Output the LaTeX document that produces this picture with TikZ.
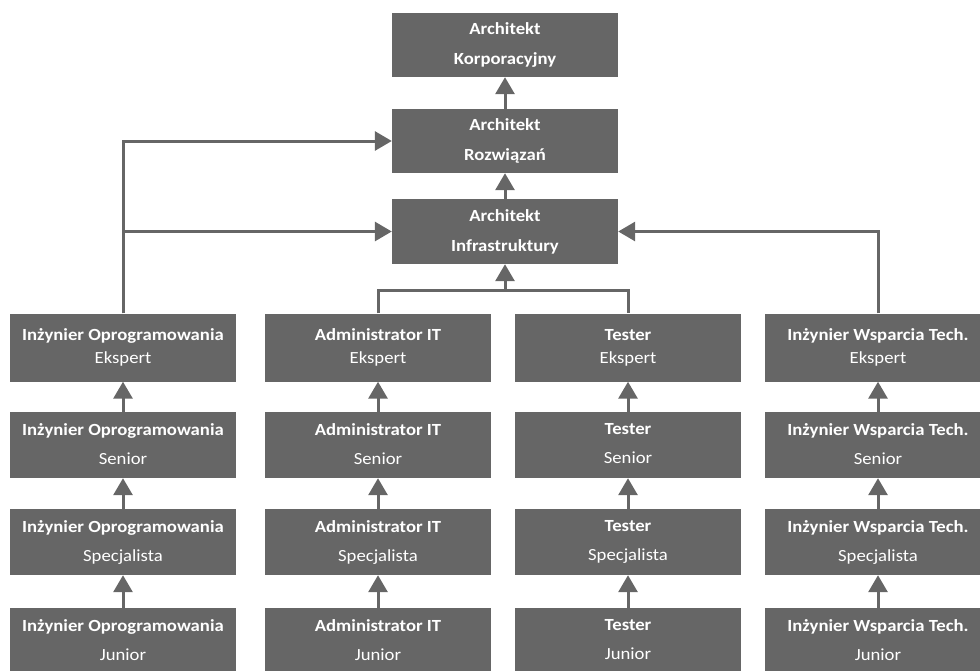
\documentclass[tikz,border=0pt]{standalone}
\usepackage{fontspec}
\setmainfont{Carlito}[FakeStretch=1.1]
\usetikzlibrary{arrows.meta}
\definecolor{boxgray}{HTML}{666666}
\begin{document}
\begin{tikzpicture}[x=1pt,y=-1pt,
  box/.style={draw=none,fill=boxgray,text=white,minimum width=226pt,inner sep=0pt,align=center,font=\fontsize{17}{23}\selectfont},
  conn/.style={draw=boxgray,line width=3pt},
  arr/.style={conn,-{Triangle[width=19pt,length=17pt]}}]
\useasboundingbox (0,0) rectangle (980,670);
% top
\node[box,minimum height=64pt] (korp) at (505,45) {\textbf{Architekt}\\[7pt]\textbf{Korporacyjny}};
\node[box,minimum height=64pt] (rozw) at (505,141) {\textbf{Architekt}\\[7pt]\textbf{Rozwiązań}};
\node[box,minimum height=65pt] (infra) at (505,231.5) {\textbf{Architekt}\\[7pt]\textbf{Infrastruktury\vphantom{y}}};
% columns
\foreach \n/\x/\t in {o/123/Inżynier Oprogramowania, a/378/Administrator IT, t/628/Tester, w/878/Inżynier Wsparcia Tech.}{
  \node[box,minimum height=68pt] (\n1) at (\x,347.5) {\textbf{\t\vphantom{Ipy}}\\Ekspert\vphantom{Ipy}};
  \node[box,minimum height=66pt] (\n2) at (\x,445) {\textbf{\t\vphantom{Ipy}}\\[6pt]Senior\vphantom{Ipy}};
  \node[box,minimum height=66pt] (\n3) at (\x,542) {\textbf{\t\vphantom{Ipy}}\\[6pt]Specjalista\vphantom{Ipy}};
  \node[box,minimum height=66pt] (\n4) at (\x,641) {\textbf{\t\vphantom{Ipy}}\\[6pt]Junior\vphantom{Ipy}};
  \draw[arr] (\n4.north) -- (\n3.south);
  \draw[arr] (\n3.north) -- (\n2.south);
  \draw[arr] (\n2.north) -- (\n1.south);
}
\draw[arr] (rozw.north) -- (korp.south);
\draw[arr] (infra.north) -- (rozw.south);
\draw[arr] (o1.north) |- (rozw.west);
\draw[arr] (o1.north) |- (infra.west);
\draw[arr] (w1.north) |- (infra.east);
\coordinate (mj) at (505,290);
\draw[conn] (a1.north) |- (mj) -| (t1.north);
\draw[arr] (mj) -- (infra.south);
\end{tikzpicture}
\end{document}
